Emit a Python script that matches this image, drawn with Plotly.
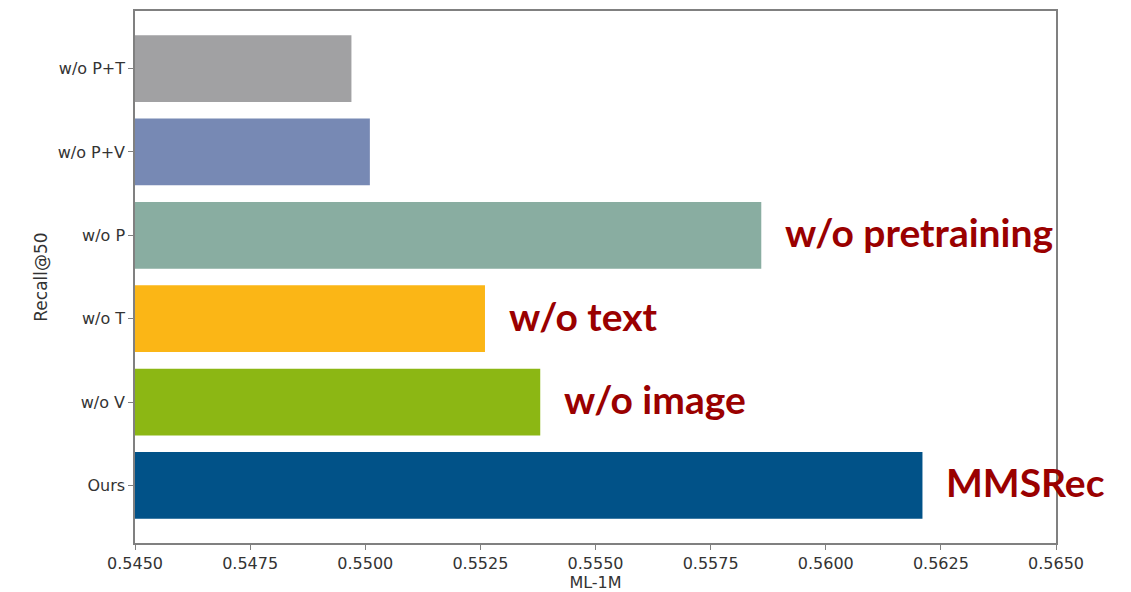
import plotly.graph_objects as go

categories = ["Ours", "w/o V", "w/o T", "w/o P", "w/o P+V", "w/o P+T"]
values = [0.5621, 0.5538, 0.5526, 0.5586, 0.5501, 0.5497]
colors = ["#015288", "#8cb714", "#fbb616", "#89ada1", "#7789b4", "#a1a1a3"]
labels = ["MMSRec", "w/o image", "w/o text", "w/o pretraining", "", ""]
x_ticks = [0.5450, 0.5475, 0.5500, 0.5525, 0.5550, 0.5575, 0.5600, 0.5625, 0.5650]

fig = go.Figure()
fig.add_trace(go.Bar(
    y=list(range(len(categories))),
    x=[v - 0.5450 for v in values],
    base=0.5450,
    orientation="h",
    marker=dict(color=colors, line=dict(width=0)),
    width=0.8,
    hoverinfo="skip",
))

for i, (v, lab) in enumerate(zip(values, labels)):
    if lab:
        fig.add_annotation(
            x=v, y=i, text="<b>" + lab + "</b>", showarrow=False,
            xanchor="left", yanchor="middle", xshift=22, yshift=3,
            font=dict(family="Lato", size=39, color="#9a0000"),
        )

axis_common = dict(
    showline=True, linecolor="#808080", linewidth=1.5, mirror=True,
    ticks="outside", ticklen=5, tickcolor="#808080", tickwidth=1,
    showgrid=False, zeroline=False,
    tickfont=dict(family="DejaVu Sans", size=16, color="#333333"),
)

fig.update_layout(
    width=1123, height=584,
    margin=dict(l=127, r=75, t=1, b=49),
    paper_bgcolor="white", plot_bgcolor="white",
    showlegend=False,
    xaxis=dict(
        range=[0.5450, 0.5650], tickvals=x_ticks,
        ticktext=[f"{t:.4f}" for t in x_ticks],
        title=dict(text="ML-1M", standoff=2,
                   font=dict(family="DejaVu Sans", size=16, color="#333333")),
        **axis_common,
    ),
    yaxis=dict(
        range=[-0.69, 5.69],
        tickvals=list(range(len(categories))), ticktext=categories,
        title=dict(text="Recall@50", standoff=6,
                   font=dict(family="DejaVu Sans", size=17, color="#333333")),
        **{**axis_common, "tickfont": dict(family="DejaVu Sans", size=16, color="#333333")},
    ),
)

fig.write_html("out.html")
